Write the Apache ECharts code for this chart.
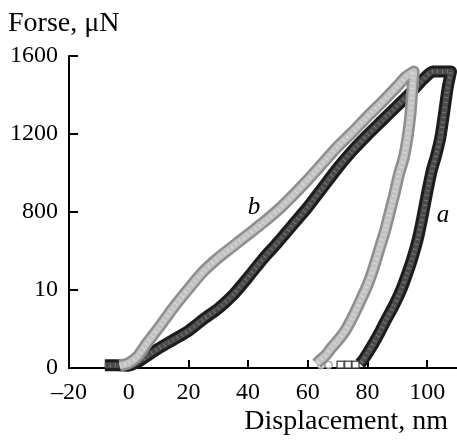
<!DOCTYPE html>
<html>
<head>
<meta charset="utf-8">
<script src="https://cdn.jsdelivr.net/npm/echarts@6/dist/echarts.min.js"></script>
<style>html,body{margin:0;padding:0;background:#fff}#c{width:457px;height:445px}</style>
</head>
<body>
<div id="c"></div>
<script>
// Curve a (dark): loading then unloading, [displacement nm, force uN]
var curveA = [
  [-8,14],[-4,14],[0,12],[3,30],[6,60],[10,100],[15,145],[20,190],[25,250],[30,305],
  [35,375],[40,465],[45,560],[50,645],[55,735],[60,825],[65,925],[70,1025],[75,1115],
  [80,1195],[85,1270],[90,1345],[95,1420],[99,1485],[102,1520],[108,1520],
  [106.8,1430],[105.6,1300],[104.4,1180],[103,1090],[101.5,1010],[100,900],[98.5,780],
  [97,670],[95,560],[93,470],[91,390],[88.5,310],[86,240],[84,180],[82,125],[80,75],
  [78.5,40],[77.5,22]
];
// Curve b (light): loading then unloading
var curveB = [
  [-3,12],[0,25],[3,60],[6,125],[10,205],[15,310],[20,405],[25,495],[30,565],[35,625],
  [40,685],[45,745],[50,810],[55,885],[60,965],[65,1050],[70,1135],[75,1210],[80,1290],
  [85,1365],[90,1445],[93,1495],[95.5,1520],
  [95,1420],[94.4,1300],[93.4,1180],[92.2,1080],[90.5,990],[89,890],[87.5,800],[86,710],
  [84,610],[82,510],[80,425],[77.5,340],[75,260],[72.5,190],[70,140],[68,105],[66,65],
  [64,38],[63,22]
];
// open-marker tails at the end of unloading
var tailA = [[71,17],[73.5,17],[76,17]];
var tailB = [[64.5,14],[67,16]];

var xTickValues = [-20,0,20,40,60,80,100];
var xTickLabels = ['\u201320','0','20','40','60','80','100'];
var yTickValues = [0,400,800,1200,1600];
var yTickLabels = ['0','10','800','1200','1600'];

var FONT = 'Liberation Serif, Times New Roman, serif';
var chart = echarts.init(document.getElementById('c'), null, {renderer:'canvas'});

function lbl(values, labels){
  return function(v){ var i = values.indexOf(v); return i < 0 ? '' : labels[i]; };
}
function lineSeries(data, color, width, z, dash, opacity){
  return {
    type:'line', data:data, symbol:'none', smooth:0.25, z:z, silent:true,
    clip:true,
    lineStyle:{color:color, width:width, type:dash||'solid', opacity:opacity==null?1:opacity, join:'round', cap:'butt'}
  };
}

chart.setOption({
  animation:false,
  backgroundColor:'#fff',
  grid:{left:69, right:0, top:56, bottom:77, containLabel:false},
  xAxis:{
    type:'value', min:-20, max:110, interval:20,
    axisLine:{show:true, onZero:false, lineStyle:{color:'#000', width:2}},
    axisTick:{show:true, inside:true, length:8, lineStyle:{color:'#000', width:2}},
    splitLine:{show:false},
    axisLabel:{formatter:lbl(xTickValues, xTickLabels), color:'#000', fontFamily:FONT, fontSize:24, margin:13, showMaxLabel:false}
  },
  yAxis:{
    type:'value', min:0, max:1600, interval:400,
    axisLine:{show:true, onZero:false, lineStyle:{color:'#000', width:2}},
    axisTick:{show:true, inside:true, length:9, lineStyle:{color:'#000', width:2}},
    splitLine:{show:false},
    axisLabel:{formatter:lbl(yTickValues, yTickLabels), color:'#000', fontFamily:FONT, fontSize:24, margin:11}
  },
  series:[
    lineSeries(curveA, '#1c1c1c', 12, 2),
    lineSeries(curveA, '#4a4a4a', 6, 3),
    lineSeries(curveA, '#9a9a9a', 4, 4, [1,4], 0.6),
    {type:'scatter', data:tailA, symbol:'rect', symbolSize:7, z:3, silent:true,
     itemStyle:{color:'#fff', borderColor:'#333', borderWidth:1.5}},
    {type:'scatter', data:tailB, symbol:'circle', symbolSize:7, z:5, silent:true,
     itemStyle:{color:'#fff', borderColor:'#999', borderWidth:1.5}},
    lineSeries(curveB, '#8e8e8e', 12, 6),
    lineSeries(curveB, '#c2c2c2', 7, 7),
    lineSeries(curveB, '#e6e6e6', 4, 8, [1,4], 0.8)
  ]
});

var pb = chart.convertToPixel({gridIndex:0}, [42, 826]);
var pa = chart.convertToPixel({gridIndex:0}, [105.3, 785]);
chart.setOption({
  graphic:[
    {type:'text', x:8, y:24, z:100, style:{text:'Forse, \u03bcN', font:'28px ' + FONT, fill:'#000', align:'left', verticalAlign:'middle'}},
    {type:'text', x:448, y:422, z:100, style:{text:'Displacement, nm', font:'28px ' + FONT, fill:'#000', align:'right', verticalAlign:'middle'}},
    {type:'text', x:pb[0], y:pb[1], z:100, style:{text:'b', font:'italic 25px ' + FONT, fill:'#000', align:'center', verticalAlign:'middle'}},
    {type:'text', x:pa[0], y:pa[1], z:100, style:{text:'a', font:'italic 25px ' + FONT, fill:'#000', align:'center', verticalAlign:'middle'}}
  ]
});
</script>
</body>
</html>
